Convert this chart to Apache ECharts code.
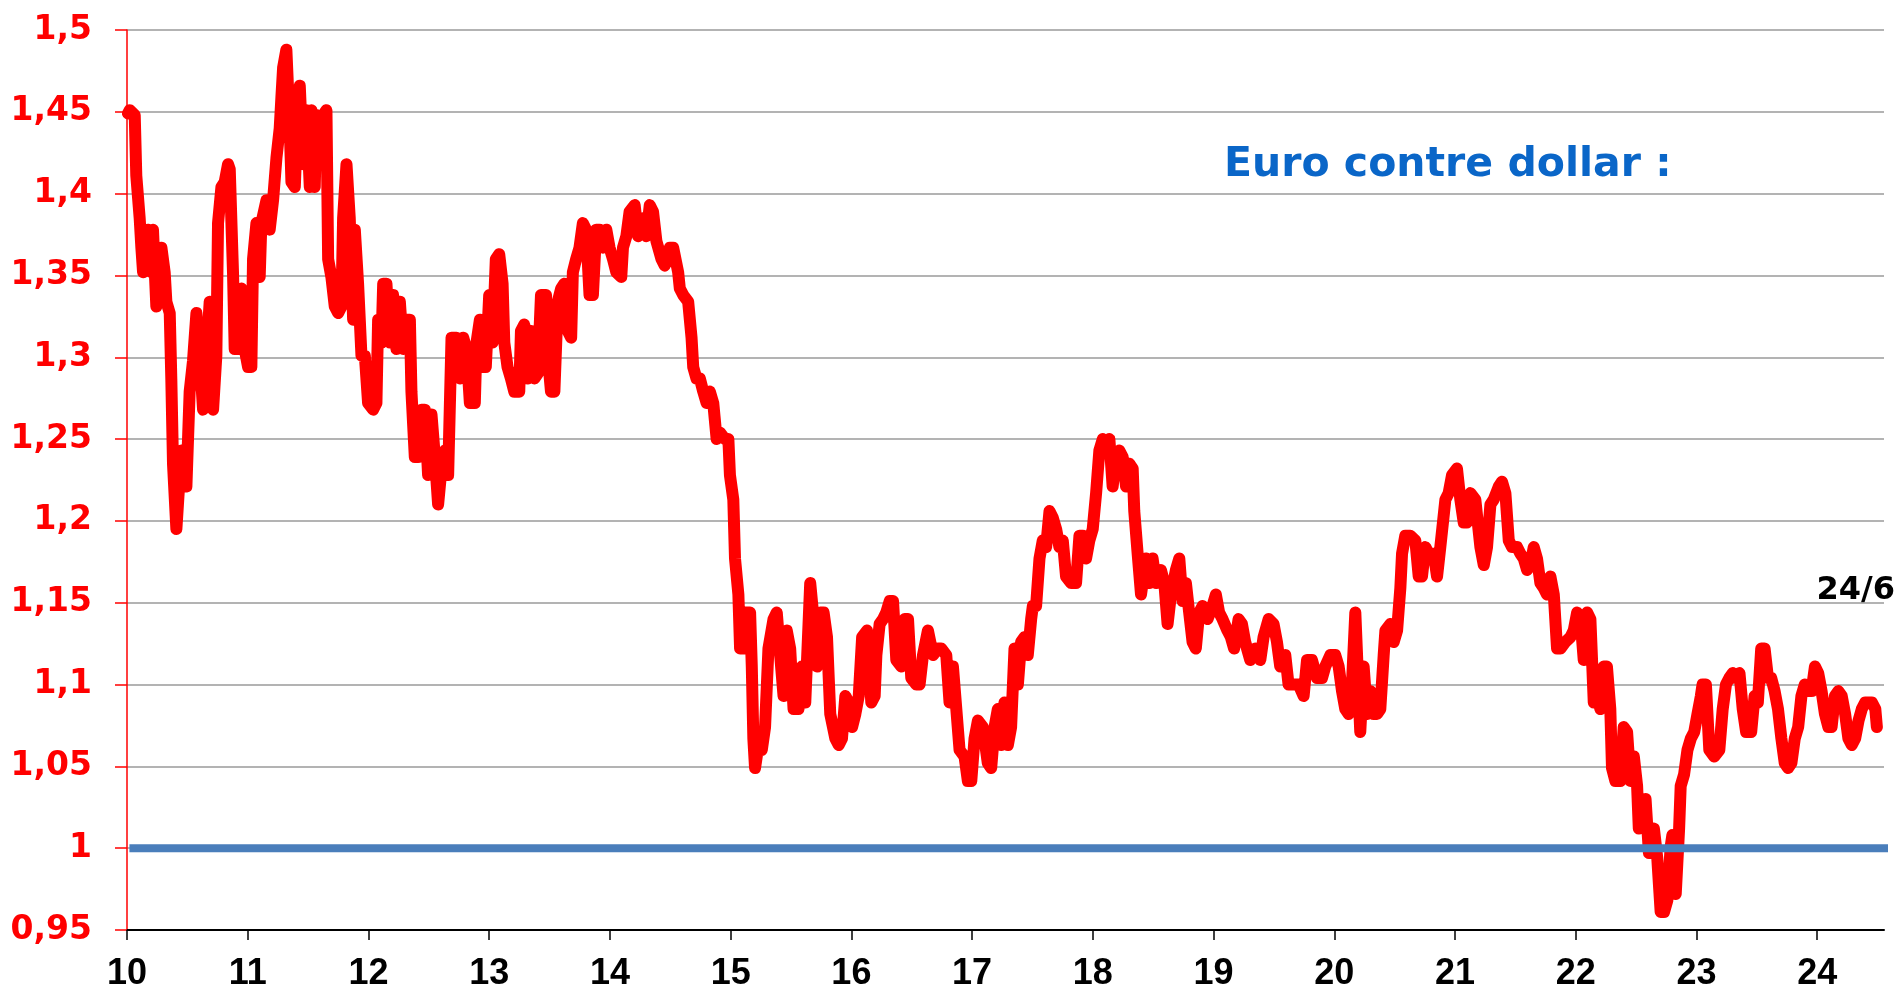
<!DOCTYPE html>
<html>
<head>
<meta charset="utf-8">
<title>Euro contre dollar</title>
<script src="https://cdn.jsdelivr.net/npm/echarts@6.0.0/dist/echarts.min.js"></script>
<style>
html, body { margin: 0; padding: 0; background: #fff; }
#chart { width: 1901px; height: 992px; }
</style>
</head>
<body>
<div id="chart"></div>
<script>
// axes
var yearTicks = [10, 11, 12, 13, 14, 15, 16, 17, 18, 19, 20, 21, 22, 23, 24];
var titleText = 'Euro contre dollar :';
var lastDateLabel = '24/6';

// parite 1 euro = 1 dollar
var parityLine = [[10.02, 1], [24.645, 1]];

// euro contre dollar, [annee, cours]
var eur2010 = [
  [10.008,1.449],[10.022,1.451],[10.064,1.448],[10.077,1.411],[10.105,1.385],[10.119,1.367],[10.133,1.352],[10.174,1.378],
  [10.202,1.352],[10.215,1.378],[10.243,1.331],[10.285,1.367],[10.312,1.352],[10.326,1.334],[10.354,1.327],[10.367,1.287],
  [10.381,1.235],[10.409,1.195],[10.423,1.195],[10.450,1.243],[10.492,1.221],[10.519,1.279],[10.547,1.298],[10.575,1.327],
  [10.602,1.301],[10.630,1.268],[10.657,1.301],[10.685,1.334],[10.713,1.268],[10.740,1.301],[10.754,1.382],[10.782,1.404],
  [10.809,1.407],[10.837,1.418],[10.851,1.415],[10.878,1.352],[10.892,1.305],[10.920,1.305],[10.948,1.342],[10.975,1.305],
  [11.003,1.294],[11.030,1.294],[11.044,1.360],[11.072,1.382],[11.099,1.349],[11.113,1.382],[11.155,1.396],[11.182,1.378],
  [11.210,1.396],[11.238,1.422],[11.265,1.440],[11.279,1.459],[11.293,1.477],[11.320,1.488],[11.348,1.440],[11.362,1.407],
  [11.390,1.404],[11.417,1.459],[11.431,1.466],[11.459,1.418],[11.486,1.451],[11.514,1.404],[11.528,1.451],[11.555,1.404],
  [11.569,1.448],[11.597,1.418],[11.624,1.448],[11.652,1.451],[11.666,1.360],[11.693,1.349],[11.721,1.331],[11.749,1.327],
  [11.776,1.331],[11.790,1.385],[11.818,1.418],[11.845,1.385],[11.873,1.323],[11.887,1.378],[11.914,1.345],[11.942,1.301],
  [11.970,1.301],[11.997,1.272],[12.039,1.268],[12.066,1.272],[12.080,1.323],[12.108,1.309],[12.122,1.345],[12.149,1.345],
  [12.177,1.309],[12.204,1.338],[12.232,1.305],[12.260,1.334],[12.287,1.305],[12.315,1.323],[12.343,1.323],[12.356,1.279],
  [12.384,1.239],[12.412,1.239],[12.439,1.268],[12.467,1.268],[12.494,1.228],[12.522,1.265],[12.550,1.239],[12.577,1.210],
  [12.605,1.232],[12.633,1.243],[12.660,1.228],[12.688,1.312],[12.729,1.312],[12.757,1.287],[12.785,1.312],[12.812,1.305],
  [12.840,1.272],[12.881,1.272],[12.895,1.309],[12.923,1.323],[12.950,1.294]
];
var eur2013 = [
  [12.972,1.294],[13.000,1.338],[13.028,1.309],[13.055,1.360],[13.083,1.363],[13.111,1.345],[13.125,1.309],[13.152,1.294],
  [13.180,1.287],[13.208,1.279],[13.249,1.279],[13.263,1.316],[13.291,1.320],[13.319,1.287],[13.346,1.316],[13.374,1.287],
  [13.402,1.290],[13.429,1.338],[13.471,1.338],[13.485,1.301],[13.512,1.279],[13.540,1.279],[13.568,1.334],[13.596,1.342],
  [13.623,1.345],[13.651,1.316],[13.679,1.312],[13.693,1.352],[13.720,1.360],[13.748,1.367],[13.776,1.382],[13.803,1.378],
  [13.831,1.338],[13.859,1.338],[13.886,1.378],[13.914,1.378],[13.942,1.367],[13.970,1.378],[13.997,1.367],[14.025,1.360],
  [14.053,1.352],[14.094,1.349],[14.108,1.367],[14.136,1.374],[14.163,1.389],[14.205,1.393],[14.233,1.374],[14.274,1.385],
  [14.302,1.374],[14.330,1.393],[14.357,1.389],[14.385,1.371],[14.427,1.360],[14.454,1.356],[14.496,1.367],[14.524,1.367],
  [14.565,1.352],[14.579,1.342],[14.607,1.338],[14.648,1.334],[14.676,1.312],[14.690,1.294],[14.717,1.287],[14.745,1.287],
  [14.773,1.279],[14.801,1.272],[14.828,1.279],[14.856,1.272],[14.884,1.250],[14.911,1.254],[14.953,1.250],[14.981,1.250],
  [14.994,1.228],[15.022,1.213],[15.036,1.177],[15.064,1.155],[15.078,1.122],[15.105,1.122],[15.119,1.144],[15.161,1.144],
  [15.175,1.111],[15.188,1.067],[15.202,1.049],[15.230,1.063],[15.258,1.060],[15.285,1.074],[15.313,1.122],[15.355,1.140],
  [15.382,1.144],[15.410,1.118],[15.438,1.093],[15.465,1.133],[15.493,1.122],[15.521,1.085],[15.562,1.085],[15.590,1.111],
  [15.618,1.089],[15.645,1.137],[15.659,1.162],[15.687,1.140],[15.715,1.111],[15.742,1.144],[15.770,1.144],[15.798,1.129],
  [15.825,1.082],[15.867,1.067],[15.895,1.063],[15.922,1.067],[15.950,1.093],[15.978,1.089],[16.006,1.074],[16.033,1.082],
  [16.061,1.093],[16.089,1.129],[16.130,1.133]
];
var eur2016 = [
  [16.165,1.089],[16.193,1.093],[16.207,1.118],[16.234,1.137],[16.262,1.140],[16.289,1.144],[16.317,1.151],[16.345,1.151],
  [16.372,1.115],[16.414,1.111],[16.441,1.140],[16.469,1.140],[16.496,1.104],[16.538,1.100],[16.565,1.100],[16.593,1.118],
  [16.634,1.133],[16.676,1.118],[16.717,1.122],[16.744,1.122],[16.786,1.118],[16.813,1.089],[16.841,1.111],[16.869,1.085],
  [16.896,1.060],[16.937,1.056],[16.965,1.041],[16.993,1.041],[17.020,1.067],[17.048,1.078],[17.089,1.074],[17.130,1.052],
  [17.158,1.049],[17.186,1.074],[17.213,1.085],[17.241,1.063],[17.268,1.089],[17.296,1.063],[17.323,1.074],[17.351,1.122],
  [17.379,1.100],[17.406,1.126],[17.434,1.129],[17.461,1.118],[17.489,1.140],[17.503,1.148],[17.530,1.148],[17.558,1.177],
  [17.585,1.188],[17.613,1.184],[17.641,1.206],[17.668,1.202],[17.696,1.195],[17.723,1.184],[17.751,1.188],[17.778,1.166],
  [17.820,1.162],[17.861,1.162],[17.889,1.191],[17.916,1.191],[17.944,1.177],[17.971,1.188],[17.999,1.195],[18.027,1.217],
  [18.054,1.243],[18.082,1.250],[18.109,1.246],[18.137,1.250],[18.164,1.221],[18.192,1.239],[18.219,1.243],[18.247,1.239],
  [18.275,1.221],[18.302,1.235],[18.330,1.232],[18.343,1.206],[18.371,1.180],[18.399,1.155],[18.412,1.155],[18.440,1.177],
  [18.467,1.162],[18.495,1.177],[18.523,1.162],[18.564,1.170],[18.592,1.162],[18.619,1.137],[18.647,1.155],[18.688,1.170],
  [18.716,1.177],[18.743,1.151],[18.771,1.162],[18.798,1.144],[18.826,1.126],[18.853,1.122],[18.881,1.144],[18.909,1.148],
  [18.950,1.140],[18.991,1.148],[19.019,1.155],[19.046,1.144],[19.074,1.140],[19.115,1.133],[19.143,1.129],[19.170,1.122]
];
var eur2019 = [
  [19.207,1.140],[19.235,1.137],[19.262,1.126],[19.304,1.115],[19.345,1.122],[19.387,1.115],[19.414,1.129],[19.456,1.140],
  [19.497,1.137],[19.525,1.126],[19.552,1.111],[19.594,1.118],[19.621,1.100],[19.663,1.100],[19.704,1.100],[19.746,1.093],
  [19.774,1.115],[19.815,1.115],[19.856,1.104],[19.898,1.104],[19.925,1.111],[19.967,1.118],[20.008,1.118],[20.036,1.111],
  [20.064,1.096],[20.091,1.085],[20.119,1.082],[20.146,1.100],[20.174,1.144],[20.202,1.093],[20.215,1.071],[20.243,1.111],
  [20.271,1.082],[20.298,1.096],[20.326,1.082],[20.354,1.082],[20.381,1.085],[20.409,1.118],[20.423,1.133],[20.464,1.137],
  [20.492,1.126],[20.520,1.133],[20.547,1.159],[20.561,1.180],[20.588,1.191],[20.630,1.191],[20.671,1.188],[20.699,1.166],
  [20.726,1.166],[20.754,1.184],[20.782,1.180],[20.823,1.180],[20.851,1.166],[20.878,1.184],[20.920,1.213],[20.947,1.217],
  [20.975,1.228],[21.016,1.232],[21.044,1.213],[21.072,1.199],[21.099,1.199],[21.127,1.217],[21.168,1.213],[21.210,1.184],
  [21.238,1.173],[21.265,1.184],[21.293,1.210],[21.320,1.213],[21.362,1.221],[21.389,1.224],[21.417,1.217],[21.445,1.188],
  [21.472,1.184],[21.514,1.184],[21.541,1.180],[21.569,1.177],[21.597,1.170],[21.624,1.173],[21.652,1.184],[21.679,1.177],
  [21.707,1.162],[21.735,1.159],[21.762,1.155],[21.790,1.166],[21.818,1.155],[21.845,1.122],[21.873,1.122],[21.914,1.126],
  [21.956,1.129],[21.983,1.133],[22.011,1.144],[22.039,1.140],[22.066,1.115],[22.094,1.144],[22.121,1.140],[22.149,1.089],
  [22.177,1.093],[22.204,1.085]
];
var eur2022 = [
  [22.231,1.111],[22.258,1.111],[22.286,1.085],[22.300,1.049],[22.328,1.041],[22.369,1.041],[22.397,1.074],[22.425,1.071],
  [22.453,1.041],[22.481,1.056],[22.508,1.038],[22.522,1.012],[22.550,1.023],[22.578,1.030],[22.606,0.997],[22.647,1.012],
  [22.675,0.994],[22.703,0.961],[22.731,0.961],[22.758,0.968],[22.786,1.001],[22.800,1.008],[22.828,0.972],[22.856,1.012],
  [22.869,1.038],[22.897,1.045],[22.925,1.060],[22.953,1.067],[22.981,1.071],[23.008,1.082],[23.036,1.093],[23.050,1.100],
  [23.078,1.100],[23.106,1.060],[23.147,1.056],[23.189,1.060],[23.217,1.085],[23.244,1.100],[23.272,1.104],[23.300,1.107],
  [23.328,1.104],[23.356,1.107],[23.383,1.085],[23.411,1.071],[23.453,1.071],[23.481,1.093],[23.508,1.089],[23.536,1.122],
  [23.564,1.122],[23.592,1.104],[23.619,1.104],[23.647,1.096],[23.675,1.085],[23.703,1.067],[23.731,1.052],[23.758,1.049],
  [23.786,1.052],[23.814,1.067],[23.842,1.074],[23.869,1.093],[23.897,1.100],[23.925,1.096],[23.953,1.096],[23.981,1.111],
  [24.008,1.107],[24.036,1.096],[24.064,1.082],[24.092,1.074],[24.119,1.074],[24.147,1.093],[24.175,1.096],[24.203,1.093],
  [24.231,1.082],[24.258,1.067],[24.286,1.063],[24.314,1.067],[24.342,1.078],[24.369,1.085],[24.397,1.089],[24.425,1.089],
  [24.453,1.089],[24.481,1.085],[24.494,1.074]
];

var eurusd = eur2010.concat(eur2013, eur2016, eur2019, eur2022);

var chart = echarts.init(document.getElementById('chart'));

var option = {
  backgroundColor: '#fff',
  animation: false,
  grid: {
    left: 127,
    right: 17,
    top: 30,
    bottom: 61
  },
  xAxis: {
    type: 'value',
    min: 10,
    max: 24.553,
    interval: 1,
    axisLine: {
      show: true,
      onZero: false,
      lineStyle: { color: '#000', width: 2 }
    },
    axisTick: {
      show: true,
      customValues: yearTicks,
      length: 10,
      lineStyle: { color: '#000', width: 1.5 }
    },
    axisLabel: {
      customValues: yearTicks,
      margin: 26,
      color: '#000',
      fontFamily: '"Liberation Sans", Arial, sans-serif',
      fontWeight: 'bold',
      fontSize: 36,
      formatter: function (v) {
        return String(Math.round(v));
      }
    },
    splitLine: { show: false }
  },
  yAxis: {
    type: 'value',
    min: 0.95,
    max: 1.5,
    interval: 0.05,
    axisLine: {
      show: true,
      lineStyle: { color: '#ff0000', width: 1.5 }
    },
    axisTick: {
      show: true,
      length: 12,
      lineStyle: { color: '#ff0000', width: 1.5 }
    },
    axisLabel: {
      margin: 35,
      color: '#ff0000',
      fontFamily: '"DejaVu Sans", sans-serif',
      fontWeight: 'bold',
      fontSize: 33,
      formatter: function (v) {
        return String(Math.round(v * 100) / 100).replace('.', ',');
      }
    },
    splitLine: {
      show: true,
      lineStyle: { color: '#9a9a9a', width: 1.5 }
    }
  },
  graphic: [
    {
      type: 'text',
      x: 1224,
      y: 165,
      style: {
        text: titleText,
        fill: '#0a66c8',
        font: 'bold 41px "DejaVu Sans", sans-serif',
        align: 'left',
        verticalAlign: 'middle'
      }
    },
    {
      type: 'text',
      x: 1895,
      y: 591,
      style: {
        text: lastDateLabel,
        fill: '#000',
        font: 'bold 32px "DejaVu Sans", sans-serif',
        align: 'right',
        verticalAlign: 'middle'
      }
    }
  ],
  series: [
    {
      name: 'EUR/USD',
      type: 'line',
      data: eurusd,
      showSymbol: false,
      symbol: 'none',
      lineStyle: { color: '#ff0000', width: 12, cap: 'round', join: 'round' },
      z: 2
    },
    {
      name: 'Parite',
      type: 'line',
      data: parityLine,
      showSymbol: false,
      symbol: 'none',
      clip: false,
      lineStyle: { color: '#4a7ebb', width: 8 },
      z: 3
    }
  ]
};

chart.setOption(option);
</script>
</body>
</html>
